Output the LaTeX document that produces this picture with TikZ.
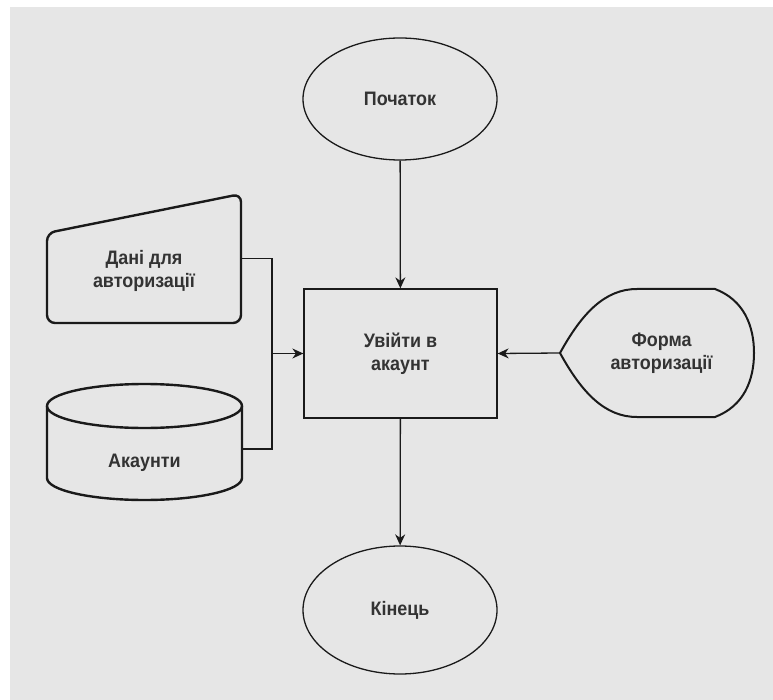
\documentclass[tikz,border=0pt]{standalone}
\usepackage{fontspec}
\setmainfont{Liberation Sans}
\newfontfamily\labelfont{Liberation Sans}[FakeStretch=0.92]
\usetikzlibrary{shapes.geometric,arrows.meta}
\definecolor{canvas}{HTML}{E6E6E6}
\definecolor{ink}{HTML}{1A1A1A}
\definecolor{txt}{HTML}{333333}
\begin{document}
\begin{tikzpicture}[x=1pt,y=-1pt,
  lbl/.style={font=\labelfont\bfseries\fontsize{19.5}{23}\selectfont, text=txt, align=center},
  terminal/.style={ellipse, draw=ink, line width=1.3pt, minimum width=194pt, inner sep=0pt, lbl},
  process/.style={rectangle, draw=ink, line width=1.3pt, minimum width=193pt, minimum height=129pt, inner sep=0pt, lbl},
  ghost/.style={rectangle, inner sep=0pt},
  heavy/.style={draw=ink, line width=2.4pt, line join=round},
  link/.style={draw=ink, line width=1.3pt},
  arr/.style={link, -{Stealth[length=11pt,width=10pt]}}]

\useasboundingbox (0,0) rectangle (773,700);
\fill[white] (0,0) rectangle (773,700);
\fill[canvas] (10,7) rectangle (773,700);

% start / process / end
\node[terminal, minimum height=122pt] (start) at (400,99) {Початок};
\node[process] (login) at (400.5,353.5) {Увійти в\\акаунт};
\node[terminal, minimum height=128pt] (finish) at (400,610) {Кінець};

% manual input: login data
\draw[heavy, rounded corners=8pt] (47,280) -- (47,233) -- (241,194) -- (241,323) -- (47,323) -- cycle;
\node[ghost, minimum width=194pt, minimum height=129pt,
      label={[lbl, yshift=-12pt]center:Дані для\\авторизації}] (data) at (144,258.5) {};

% stored data: accounts
\draw[heavy] (144.5,406) ellipse[x radius=97.5pt, y radius=22pt];
\draw[heavy] (47,406) -- (47,478) arc[start angle=180, end angle=360, x radius=97.5pt, y radius=22pt] -- (242,406);
\node[ghost, minimum width=195pt, minimum height=86pt,
      label={[lbl, yshift=-14pt]center:Акаунти}] (acc) at (144.5,449) {};

% display: login form
\draw[heavy, line width=2pt] (560,353) .. controls (582,313) and (605,289) .. (637,289) -- (715,289)
  .. controls (744,300) and (754,326) .. (754,353)
  .. controls (754,380) and (744,406) .. (715,417) -- (637,417)
  .. controls (605,417) and (582,393) .. (560,353) -- cycle;
\node[ghost, minimum width=193pt, minimum height=128pt,
      label={[lbl, xshift=5pt]center:Форма\\авторизації}] (form) at (656.5,353) {};

% connectors
\coordinate (join) at (272,353.5);
\draw[arr] (start) -- (login);
\draw[arr] (login) -- (finish);
\draw[arr] (form.west) -- (login.east);
\draw[link] (data.east) -| (join) |- (acc.east);
\draw[arr] (join) -- (login.west);
\end{tikzpicture}
\end{document}
